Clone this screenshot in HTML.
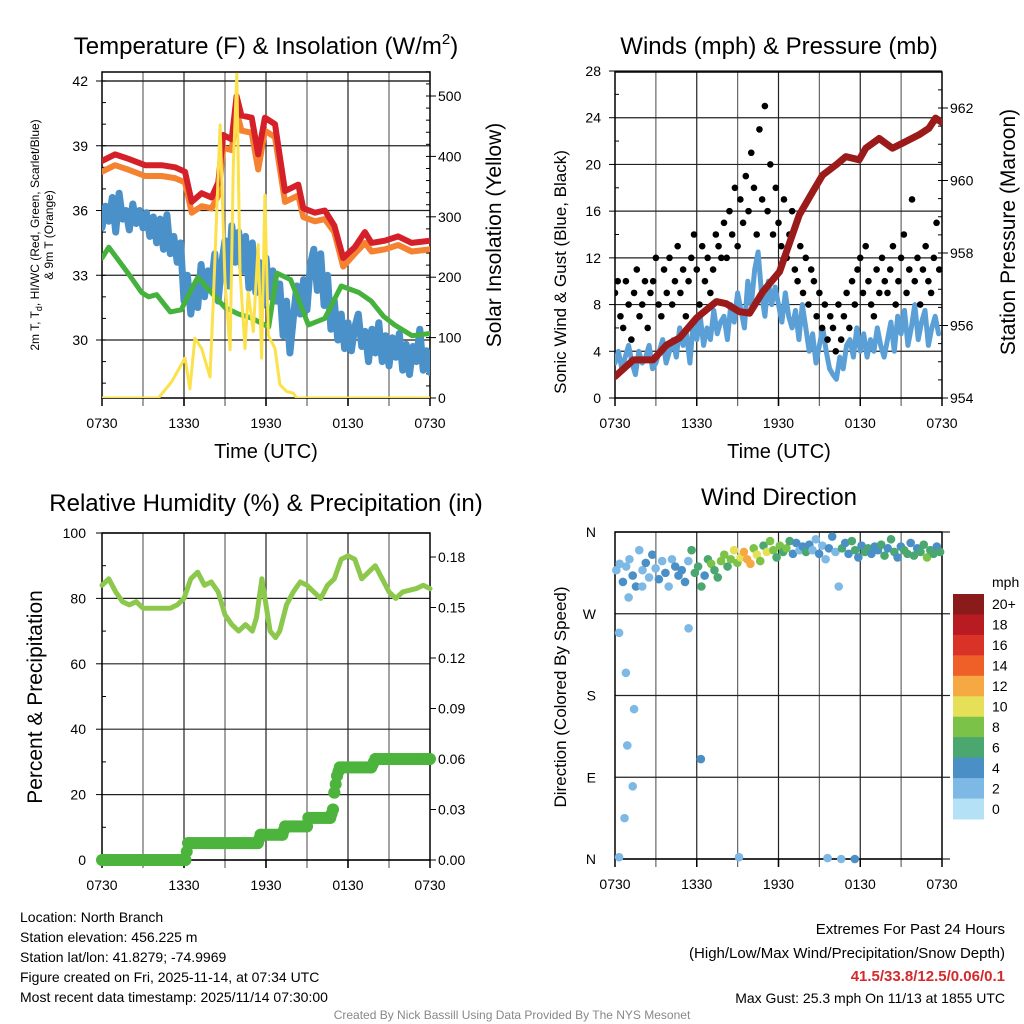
<!DOCTYPE html>
<html><head><meta charset="utf-8"><style>
html,body{margin:0;padding:0;background:#fff}
svg{display:block;font-family:"Liberation Sans",sans-serif}
</style></head><body>
<svg id="c" width="1024" height="1024" viewBox="0 0 1024 1024" xmlns="http://www.w3.org/2000/svg">
<g id="titles" font-size="24" text-anchor="middle" fill="#000">
<text x="266" y="54">Temperature (F) &amp; Insolation (W/m<tspan font-size="15" dy="-10">2</tspan><tspan dy="10">)</tspan></text>
<text x="779" y="54">Winds (mph) &amp; Pressure (mb)</text>
<text x="266" y="511">Relative Humidity (%) &amp; Precipitation (in)</text>
<text x="779" y="505">Wind Direction</text>
</g>
<g font-size="20" text-anchor="middle">
<text x="266" y="458">Time (UTC)</text>
<text x="779" y="458">Time (UTC)</text>
<text font-size="21" transform="translate(501,235) rotate(-90)">Solar Insolation (Yellow)</text>
<text font-size="21" transform="translate(1015,232) rotate(-90)">Station Pressure (Maroon)</text>
<text font-size="21" transform="translate(42,697) rotate(-90)">Percent &amp; Precipitation</text>
<text font-size="17" transform="translate(566,272) rotate(-90)">Sonic Wind &amp; Gust (Blue, Black)</text>
<text font-size="17" transform="translate(566,697) rotate(-90)">Direction (Colored By Speed)</text>
<text font-size="12" transform="translate(39,235) rotate(-90)">2m T, T<tspan font-size="9" dy="3">d</tspan><tspan dy="-3">, HI/WC (Red, Green, Scarlet/Blue)</tspan></text>
<text font-size="12" transform="translate(53,235) rotate(-90)">&amp; 9m T (Orange)</text>
</g>
<g font-size="14" fill="#000">
<text x="20" y="922">Location: North Branch</text>
<text x="20" y="942">Station elevation: 456.225 m</text>
<text x="20" y="962">Station lat/lon: 41.8279; -74.9969</text>
<text x="20" y="982">Figure created on Fri, 2025-11-14, at 07:34 UTC</text>
<text x="20" y="1002">Most recent data timestamp: 2025/11/14 07:30:00</text>
<g text-anchor="end" font-size="15">
<text x="1005" y="934">Extremes For Past 24 Hours</text>
<text x="1005" y="958">(High/Low/Max Wind/Precipitation/Snow Depth)</text>
<text x="1005" y="981" fill="#d42a2a" font-weight="bold">41.5/33.8/12.5/0.06/0.1</text>
<text x="1005" y="1003" font-size="14">Max Gust: 25.3 mph On 11/13 at 1855 UTC</text>
</g>
<text x="512" y="1019" text-anchor="middle" font-size="12" fill="#888">Created By Nick Bassill Using Data Provided By The NYS Mesonet</text>
</g>
</svg>
<script>
// ---------- data ----------
const xLabels = ["0730","1330","1930","0130","0730"];
const tempTicks = [30,33,36,39,42];
const solarTicks = [0,100,200,300,400,500];
const windTicks = [0,4,8,12,16,20,24,28];
const presTicks = [954,956,958,960,962];
const rhTicks = [0,20,40,60,80,100];
const precipTicks = ["0.00","0.03","0.06","0.09","0.12","0.15","0.18"];
const dirLabels = ["N","E","S","W","N"];
const speedBins = ["0","2","4","6","8","10","12","14","16","18","20+"];
const speedColors = ["#b4e1f6","#7db9e4","#4a90c6","#4aa770","#7ac348","#e5e057","#f6a943","#ef6029","#d93328","#b81c22","#8b1a1a"];

const tempHours = [0,0.95,1.9,3.15,4.37,5.34,6.07,6.56,7.29,8.02,8.51,8.87,9.49,9.85,10.2,10.95,11.43,11.92,12.66,13.39,14.36,14.73,15.58,16.3,17.0,17.65,18.5,19.24,19.73,20.7,21.67,22.66,24];
const redTemp = [38.3,38.6,38.4,38.1,38.1,38.0,37.8,36.4,36.8,36.6,37.3,39.5,39.3,41.3,40.4,40.3,38.6,40.3,40.0,36.9,37.2,36.1,35.9,36.0,35.3,33.8,34.3,35.0,34.5,34.6,34.8,34.5,34.6];
const orangeTemp = [37.8,38.1,37.9,37.6,37.6,37.5,37.3,35.9,36.2,36.1,36.7,38.9,38.8,40.6,39.7,39.6,37.9,39.7,39.4,36.4,36.7,35.7,35.5,35.6,35.0,33.4,34.0,34.5,34.1,34.2,34.4,34.1,34.2];
const dewHours = [0,0.5,1.9,2.9,3.4,4.0,5.0,5.8,6.1,7.0,8.0,9.0,10.0,11.0,12.2,12.8,13.8,15.1,16.3,17.5,18.8,19.7,20.6,21.4,22.7,24];
const dewTemp = [33.8,34.3,33.1,32.2,32.0,32.1,31.3,31.4,31.8,32.9,32.2,31.5,31.2,31.0,30.6,33.1,32.8,30.7,31.0,32.5,32.2,31.8,31.1,30.7,30.2,30.3];
const hiwcTemp = [35.2,36.2,35.5,36.6,35.0,36.8,35.6,36.0,35.1,36.3,35.4,36.0,35.2,35.9,34.8,35.7,
34.5,35.6,34.2,35.8,34.0,34.8,33.6,34.5,31.8,33.0,31.2,32.5,31.5,33.5,32.0,33.2,
32.5,34.0,31.8,33.5,34.6,32.5,35.3,33.6,35.0,33.2,34.8,32.4,34.5,32.2,33.6,31.6,
33.8,32.0,33.2,31.8,32.6,30.2,31.8,29.4,31.0,32.5,31.2,32.8,31.4,33.5,34.2,32.3,
34.0,31.6,33.0,30.5,31.8,30.0,31.2,29.6,30.8,29.5,30.6,31.2,29.7,30.4,29.0,30.5,
29.4,30.8,29.0,30.2,28.8,30.1,29.2,30.3,28.6,29.8,28.4,29.7,29.0,30.5,28.6,29.5,28.5];
const solarHours = [0,4.13,5.1,6.07,6.43,6.8,7.29,7.9,8.15,8.64,9.0,9.37,9.61,9.86,10.1,10.46,10.7,11.07,11.43,11.68,11.92,12.17,12.66,13.02,13.51,14.0,14.24,24];
const solarVals = [0,0,27,66,15,99,82,35,165,452,193,80,383,536,210,82,175,110,254,66,336,104,82,22,11,8,0,0];

const windStep = 0.25;
const windVals = [3,4,2.5,3.5,4.5,3,2,4,3,3.5,4.5,2.5,3,4,5,3,
4,5,3.5,6,4.5,5.5,3,6.5,5,7,4.5,6,5,7.5,5.5,6.5,
7,5,8,6.5,9,7.5,6,10,8,11,12.5,9,7,10,8,9.5,
8,6.5,9,7,6,7.5,5,8,6,4,5.5,3,4.5,6,4,2.5,
2,1.6,3.5,2.5,4.5,5,3.5,6,4,5.5,3.5,5,4,6,4.5,3.5,
5,6.5,4,7,5.5,7.5,4.5,6,8,5,6.5,7.5,4.5,6,7,5.5];
const gustStep = 0.2;
const gustVals = [9,10,7,6,10,8,5,9,11,7,8,10,6,9,10,12,8,7,11,9,
12,8,10,13,9,11,7,10,12,14,11,8,13,10,12,9,11,14,13,12,
15,12,16,14,18,13,17,15,19,16,21,18,14,23,17,25,16,20,14,18,
15,13,17,12,14,16,11,10,13,9,12,8,11,10,7,9,6,8,5,7,
6,4,8,5,7,9,6,10,8,11,12,9,13,10,8,7,11,9,12,10,
9,11,13,8,10,12,14,9,11,17,10,12,8,11,13,10,9,12,15,11];
const presHours = [0,1.34,2.8,3.78,4.75,5.97,7.44,8.17,9.14,9.88,10.85,12.07,13.53,14.51,15.24,16.22,16.95,17.92,18.41,19.39,20.36,21.09,22.31,23.04,23.53,24];
const presVals = [954.59,955.05,955.05,955.46,955.66,956.2,956.66,956.6,956.38,956.34,956.93,957.48,959.05,959.69,960.15,960.43,960.66,960.57,960.89,961.16,960.89,961.03,961.26,961.44,961.72,961.6];

const rhHours = [0,0.5,1,1.5,2,2.5,3,4,5,5.5,6,6.5,7,7.5,8,8.5,9,9.5,10,10.5,11,11.3,11.7,12,12.3,12.7,13,13.5,14,14.5,15,15.5,16,16.5,17,17.5,18,18.5,19,19.5,20,20.5,21,21.5,22,23,23.5,24];
const rhVals = [84,86,82,79,78,79,77,77,77,78,80,86,88,84,85,82,75,72,70,72,70,74,86,78,70,68,70,78,82,85,84,82,80,84,86,92,93,92,86,88,90,86,82,80,82,83,84,83];
const precipHours = [0,6.1,6.3,11.4,11.6,13.2,13.4,15.0,15.1,16.7,16.9,17.0,17.2,17.4,17.6,19.7,20.0,24];
const precipVals = [0,0,0.01,0.01,0.015,0.015,0.02,0.02,0.025,0.025,0.03,0.04,0.05,0.055,0.055,0.055,0.06,0.06];

const dirStep = 0.24;
const dirVals = [318,325,305,322,330,312,300,340,318,326,310,335,320,308,328,315,300,330,322,312,
318,305,328,340,315,322,300,312,330,325,318,310,328,335,322,330,340,326,332,338,
330,325,342,335,328,345,338,350,340,332,345,338,342,350,336,348,340,344,338,346,
340,352,336,345,330,342,355,338,300,342,348,336,350,340,332,345,338,342,336,344,
340,346,334,342,352,338,332,344,340,336,348,334,342,338,346,332,340,336,344,338];
const dirSpeeds = [3,2,4,3,2,5,4,3,2,4,3,5,2,4,3,4,2,3,5,4,
4,5,3,6,7,6,7,5,7,8,6,7,9,8,7,9,10,8,11,13,
12,13,9,11,8,7,10,9,8,7,9,6,8,7,5,4,3,5,6,4,
3,2,4,3,2,5,4,3,2,6,5,4,7,6,5,4,6,7,5,4,
5,7,6,4,7,6,5,4,7,6,5,7,4,6,7,8,6,7,5,6];
const outHours = [0.3,0.8,1.4,0.9,1.3,0.7,0.3,5.4,6.3,9.1,15.6,16.6,17.6,1.0,2.0];
const outDirs = [249,205,165,125,80,45,2,254,110,2,1,0,0,288,300];
const outSpeeds = [2,2,2,2,2,2,2,2,4,2,3,2,4,2,2];

// ---------- drawing ----------
const NS="http://www.w3.org/2000/svg";
const svg=document.getElementById('c');
function el(tag,attrs,parent){const e=document.createElementNS(NS,tag);for(const k in attrs)e.setAttribute(k,attrs[k]);(parent||svg).appendChild(e);return e;}
function lin(d0,d1,r0,r1){return v=>r0+(v-d0)*(r1-r0)/(d1-d0);}

const panels={
 temp:{x0:102,x1:430,y0:72,y1:398},
 wind:{x0:615,x1:942,y0:72,y1:398},
 rh:{x0:102,x1:430,y0:533,y1:860},
 dir:{x0:615,x1:942,y0:532,y1:859}
};
function frame(p,name,hy){
 const g=el('g',{});
 
 
 const xs=lin(0,24,p.x0,p.x1);
 for(let h=3;h<24;h+=3){el('line',{x1:xs(h),x2:xs(h),y1:p.y0,y2:p.y1+8,stroke:h%6==0?'#222':'#666','stroke-width':1.2},g);}
 hy.forEach(y=>el('line',{x1:p.x0,x2:p.x1,y1:y,y2:y,stroke:'#222','stroke-width':1.2},g));
 const r=el('rect',{x:p.x0,y:p.y0,width:p.x1-p.x0,height:p.y1-p.y0,fill:'none',stroke:'#000','stroke-width':1.5},g);
 
 
 xLabels.forEach((l,i)=>{const t=el('text',{x:xs(i*6),y:p.y1+30,'font-size':14,'text-anchor':'middle'});t.textContent=l;
  
  
  el('line',{x1:xs(i*6),x2:xs(i*6),y1:p.y1,y2:p.y1+8,stroke:'#000','stroke-width':1.5});});
 return xs;
}
function ylab(x,y,txt,anchor){const t=el('text',{x:x,y:y+5,'font-size':14,'text-anchor':anchor});t.textContent=txt;
 
 }
function path(xs,ys,hours,vals,attrs,name){
 let d='';hours.forEach((h,i)=>{d+=(i?'L':'M')+xs(h).toFixed(1)+' '+ys(vals[i]).toFixed(1);});
 const p=el('path',Object.assign({d:d,fill:'none','stroke-linejoin':'round','stroke-linecap':'round'},attrs));
 
 
 return p;
}

// Panel 1
{const p=panels.temp;
 const yT=lin(30,42,340,81), yS=lin(0,500,398,96);
 const xs=frame(p,'temp',tempTicks.map(yT).concat([yT(42)]));
 tempTicks.forEach(v=>{ylab(88,yT(v),String(v),'end');el('line',{x1:p.x0-6,x2:p.x0,y1:yT(v),y2:yT(v),stroke:'#000'});});
 for(let v=28;v<=42;v++)el('line',{x1:p.x0,x2:p.x0+4,y1:yT(v),y2:yT(v),stroke:'#000'});
 solarTicks.forEach(v=>{ylab(438,yS(v),String(v),'start');el('line',{x1:p.x1,x2:p.x1+6,y1:yS(v),y2:yS(v),stroke:'#000'});});
 for(let v=20;v<=540;v+=20)el('line',{x1:p.x1-4,x2:p.x1,y1:yS(v),y2:yS(v),stroke:'#000'});
 el('clipPath',{id:'cp1'}).appendChild(el('rect',{x:p.x0,y:p.y0-12,width:p.x1-p.x0,height:p.y1-p.y0+12}));
 const g=el('g',{'clip-path':'url(#cp1)'});
 g.appendChild(path(xs,yT,hiwcTemp.map((v,i)=>i*0.25),hiwcTemp,{stroke:'#4a90c9','stroke-width':7},'hiwc-line'));
 g.appendChild(path(xs,yT,dewHours,dewTemp,{stroke:'#44b23c','stroke-width':5},'dewpoint-line'));
 g.appendChild(path(xs,yT,tempHours,orangeTemp,{stroke:'#f58230','stroke-width':6},'temp-9m-line'));
 g.appendChild(path(xs,yT,tempHours,redTemp,{stroke:'#d5202a','stroke-width':6},'temp-2m-line'));
 g.appendChild(path(xs,yS,solarHours,solarVals,{stroke:'#fbe14a','stroke-width':3},'solar-line'));
}
// Panel 2
{const p=panels.wind;
 const yW=lin(0,28,398,71), yP=lin(954,962,398,108);
 const xs=frame(p,'wind',windTicks.map(yW));
 windTicks.forEach(v=>{ylab(601,yW(v),String(v),'end');el('line',{x1:p.x0-6,x2:p.x0,y1:yW(v),y2:yW(v),stroke:'#000'});});
 for(let v=2;v<28;v+=4)el('line',{x1:p.x0,x2:p.x0+4,y1:yW(v),y2:yW(v),stroke:'#000'});
 presTicks.forEach(v=>{ylab(950,yP(v),String(v),'start');el('line',{x1:p.x1,x2:p.x1+6,y1:yP(v),y2:yP(v),stroke:'#000'});});
 for(let v=954.5;v<963;v+=0.5)el('line',{x1:p.x1-4,x2:p.x1,y1:yP(v),y2:yP(v),stroke:'#000'});
 el('clipPath',{id:'cp2'}).appendChild(el('rect',{x:p.x0,y:p.y0,width:p.x1-p.x0,height:p.y1-p.y0}));
 const g=el('g',{'clip-path':'url(#cp2)'});
 g.appendChild(path(xs,yW,windVals.map((v,i)=>i*windStep),windVals,{stroke:'#5a9fd6','stroke-width':5},'wind-speed-line'));
 gustVals.forEach((v,i)=>{const c=el('circle',{cx:xs(i*gustStep),cy:yW(v),r:3.3,fill:'#000'},g);
  
  });
 g.appendChild(path(xs,yP,presHours,presVals,{stroke:'#9b1b1b','stroke-width':7},'pressure-line'));
}
// Panel 3
{const p=panels.rh;
 const yR=lin(0,100,860,533), yPr=lin(0,0.18,860,557);
 const xs=frame(p,'rh',rhTicks.map(yR));
 rhTicks.forEach(v=>{ylab(86,yR(v),String(v),'end');el('line',{x1:p.x0-6,x2:p.x0,y1:yR(v),y2:yR(v),stroke:'#000'});});
 for(let v=10;v<100;v+=20)el('line',{x1:p.x0,x2:p.x0+4,y1:yR(v),y2:yR(v),stroke:'#000'});
 precipTicks.forEach(v=>{ylab(438,yPr(+v),v,'start');el('line',{x1:p.x1,x2:p.x1+6,y1:yPr(+v),y2:yPr(+v),stroke:'#000'});});
 path(xs,yR,rhHours,rhVals,{stroke:'#8cc84b','stroke-width':5},'rh-line');
 const g=el('g',{});
 
 
 for(let i=0;i<precipHours.length-1;i++){
  const h0=precipHours[i],h1=precipHours[i+1],v0=precipVals[i],v1=precipVals[i+1];
  const n=Math.max(1,Math.round((h1-h0)/0.12));
  for(let k=0;k<=n;k++){const f=k/n;const c=el('circle',{cx:xs(h0+(h1-h0)*f),cy:yPr(v0+(v1-v0)*f),r:6,fill:'#4cb43c'},g);
   
   }
 }
}
// Panel 4
{const p=panels.dir;
 const yD=lin(0,360,859,532);
 const xs=frame(p,'dir',[0,90,180,270,360].map(yD));
 [0,90,180,270,360].forEach(v=>el('line',{x1:p.x1,x2:p.x1+8,y1:yD(v),y2:yD(v),stroke:'#222','stroke-width':1.2}));
 dirLabels.forEach((l,i)=>ylab(596,yD(i*90),l,'end'));
 const col=s=>speedColors[Math.min(10,Math.floor(s/2))];
 dirVals.forEach((d,i)=>{const c=el('circle',{cx:xs(i*dirStep+0.1),cy:yD(d),r:4.3,fill:col(dirSpeeds[i])});
  
  });
 outDirs.forEach((d,i)=>{const c=el('circle',{cx:xs(outHours[i]),cy:yD(d),r:4.3,fill:col(outSpeeds[i])});
  
  });
 // colorbar
 const cb=el('g',{});
 
 
 const t=el('text',{x:992,y:587,'font-size':14},cb);t.textContent='mph';
 const bh=225/11;
 speedBins.forEach((lab,i)=>{const j=10-i;
  el('rect',{x:953,y:594+i*bh,width:31,height:bh+0.5,fill:speedColors[j]},cb);
  const tl=el('text',{x:992,y:594+i*bh+bh/2+5,'font-size':14},cb);tl.textContent=speedBins[j];
  
  });
}
</script>
</body></html>
